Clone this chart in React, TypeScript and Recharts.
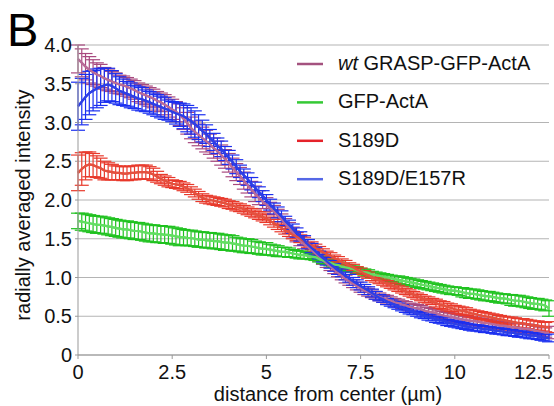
import React from 'react';
import { LineChart, Line, XAxis, YAxis, CartesianGrid, ErrorBar, Legend } from 'recharts';

const FONT = '"Liberation Sans", Arial, Helvetica, sans-serif';

// distance from center (µm), sampled every 0.1 µm
const distance: number[] = Array.from({ length: 126 }, (_, i) => i / 10);

const xTicks = [0, 2.5, 5, 7.5, 10, 12.5];
const yTicks = [0, 0.5, 1, 1.5, 2, 2.5, 3, 3.5, 4];

// wt GRASP-GFP-ActA
const wtMean = [
  3.82, 3.77, 3.72, 3.68, 3.65, 3.62, 3.60, 3.57, 3.55, 3.53,
  3.51, 3.49, 3.48, 3.46, 3.44, 3.42, 3.39, 3.37, 3.35, 3.33,
  3.31, 3.28, 3.26, 3.23, 3.20, 3.17, 3.14, 3.10, 3.05, 2.99,
  2.93, 2.88, 2.84, 2.80, 2.76, 2.72, 2.67, 2.63, 2.58, 2.53,
  2.48, 2.42, 2.36, 2.31, 2.25, 2.19, 2.14, 2.08, 2.03, 1.98,
  1.94, 1.89, 1.85, 1.80, 1.75, 1.69, 1.64, 1.58, 1.52, 1.47,
  1.43, 1.39, 1.35, 1.31, 1.27, 1.22, 1.18, 1.14, 1.10, 1.06,
  1.02, 0.98, 0.95, 0.92, 0.89, 0.86, 0.83, 0.81, 0.79, 0.77,
  0.75, 0.73, 0.72, 0.70, 0.68, 0.67, 0.65, 0.64, 0.62, 0.61,
  0.60, 0.59, 0.57, 0.56, 0.55, 0.54, 0.52, 0.51, 0.50, 0.49,
  0.48, 0.47, 0.46, 0.45, 0.44, 0.44, 0.43, 0.42, 0.41, 0.41,
  0.40, 0.39, 0.38, 0.38, 0.37, 0.36, 0.36, 0.35, 0.34, 0.34,
  0.33, 0.32, 0.31, 0.30, 0.29, 0.29,
];
const wtErr = [
  0.18, 0.18, 0.17, 0.17, 0.16, 0.15, 0.15, 0.14, 0.14, 0.13,
  0.13, 0.12, 0.12, 0.12, 0.12, 0.12, 0.12, 0.12, 0.12, 0.12,
  0.12, 0.12, 0.12, 0.13, 0.13, 0.13, 0.13, 0.14, 0.14, 0.14,
  0.14, 0.14, 0.14, 0.14, 0.14, 0.13, 0.13, 0.13, 0.13, 0.12,
  0.12, 0.12, 0.11, 0.11, 0.11, 0.10, 0.10, 0.10, 0.09, 0.09,
  0.09, 0.08, 0.08, 0.08, 0.07, 0.07, 0.07, 0.07, 0.06, 0.06,
  0.06, 0.06, 0.06, 0.06, 0.06, 0.05, 0.05, 0.05, 0.05, 0.05,
  0.05, 0.05, 0.05, 0.05, 0.05, 0.05, 0.05, 0.05, 0.05, 0.05,
  0.05, 0.05, 0.05, 0.05, 0.05, 0.05, 0.05, 0.05, 0.05, 0.05,
  0.05, 0.05, 0.05, 0.05, 0.05, 0.05, 0.05, 0.05, 0.05, 0.05,
  0.05, 0.05, 0.05, 0.05, 0.05, 0.05, 0.05, 0.05, 0.05, 0.05,
  0.05, 0.05, 0.05, 0.05, 0.05, 0.05, 0.06, 0.06, 0.06, 0.06,
  0.06, 0.06, 0.06, 0.06, 0.06, 0.08,
];

// GFP-ActA
const gfpMean = [
  1.73, 1.72, 1.71, 1.70, 1.69, 1.68, 1.68, 1.67, 1.66, 1.65,
  1.64, 1.63, 1.62, 1.62, 1.61, 1.60, 1.60, 1.59, 1.58, 1.57,
  1.57, 1.56, 1.56, 1.55, 1.55, 1.54, 1.53, 1.52, 1.52, 1.51,
  1.51, 1.50, 1.49, 1.49, 1.48, 1.48, 1.47, 1.47, 1.46, 1.45,
  1.45, 1.44, 1.43, 1.42, 1.41, 1.41, 1.40, 1.39, 1.38, 1.37,
  1.37, 1.36, 1.35, 1.34, 1.33, 1.33, 1.32, 1.31, 1.30, 1.29,
  1.29, 1.28, 1.27, 1.26, 1.24, 1.22, 1.21, 1.19, 1.17, 1.16,
  1.14, 1.13, 1.12, 1.11, 1.09, 1.08, 1.07, 1.06, 1.04, 1.03,
  1.02, 1.01, 1.00, 0.99, 0.98, 0.97, 0.96, 0.95, 0.94, 0.93,
  0.92, 0.91, 0.90, 0.89, 0.88, 0.87, 0.86, 0.85, 0.84, 0.83,
  0.83, 0.82, 0.81, 0.80, 0.79, 0.79, 0.78, 0.77, 0.76, 0.76,
  0.75, 0.74, 0.73, 0.73, 0.72, 0.71, 0.70, 0.70, 0.69, 0.68,
  0.67, 0.66, 0.66, 0.65, 0.64, 0.60,
];
const gfpErr = [
  0.10, 0.11, 0.11, 0.11, 0.11, 0.11, 0.11, 0.11, 0.11, 0.11,
  0.11, 0.11, 0.11, 0.11, 0.11, 0.11, 0.11, 0.11, 0.11, 0.11,
  0.11, 0.11, 0.11, 0.11, 0.11, 0.11, 0.11, 0.11, 0.10, 0.10,
  0.10, 0.10, 0.10, 0.10, 0.10, 0.10, 0.10, 0.10, 0.10, 0.10,
  0.10, 0.10, 0.09, 0.09, 0.09, 0.09, 0.09, 0.08, 0.08, 0.08,
  0.08, 0.07, 0.07, 0.07, 0.06, 0.06, 0.06, 0.05, 0.05, 0.05,
  0.05, 0.04, 0.04, 0.04, 0.04, 0.04, 0.04, 0.04, 0.04, 0.04,
  0.04, 0.04, 0.04, 0.04, 0.04, 0.04, 0.04, 0.04, 0.04, 0.04,
  0.04, 0.04, 0.04, 0.04, 0.04, 0.05, 0.05, 0.05, 0.05, 0.05,
  0.05, 0.05, 0.05, 0.05, 0.05, 0.05, 0.05, 0.05, 0.05, 0.05,
  0.05, 0.05, 0.06, 0.06, 0.06, 0.06, 0.06, 0.06, 0.06, 0.06,
  0.06, 0.06, 0.06, 0.06, 0.06, 0.07, 0.07, 0.07, 0.07, 0.07,
  0.07, 0.07, 0.07, 0.07, 0.07, 0.10,
];

// S189D
const s189dMean = [
  2.35, 2.40, 2.44, 2.46, 2.45, 2.43, 2.41, 2.38, 2.37, 2.36,
  2.35, 2.35, 2.34, 2.34, 2.35, 2.35, 2.36, 2.36, 2.36, 2.35,
  2.33, 2.30, 2.27, 2.25, 2.23, 2.21, 2.20, 2.19, 2.17, 2.15,
  2.12, 2.09, 2.06, 2.03, 2.01, 2.00, 1.99, 1.98, 1.97, 1.96,
  1.94, 1.93, 1.91, 1.90, 1.88, 1.86, 1.84, 1.82, 1.80, 1.78,
  1.76, 1.73, 1.70, 1.67, 1.64, 1.61, 1.58, 1.55, 1.53, 1.50,
  1.47, 1.44, 1.41, 1.38, 1.35, 1.33, 1.30, 1.28, 1.25, 1.23,
  1.20, 1.18, 1.15, 1.13, 1.10, 1.08, 1.05, 1.03, 1.00, 0.98,
  0.96, 0.94, 0.92, 0.90, 0.88, 0.86, 0.84, 0.82, 0.80, 0.78,
  0.76, 0.74, 0.72, 0.71, 0.69, 0.67, 0.65, 0.64, 0.62, 0.61,
  0.59, 0.58, 0.57, 0.56, 0.54, 0.53, 0.52, 0.51, 0.50, 0.49,
  0.48, 0.47, 0.46, 0.45, 0.44, 0.43, 0.42, 0.41, 0.41, 0.40,
  0.39, 0.38, 0.38, 0.37, 0.36, 0.36,
];
const s189dErr = [
  0.23, 0.21, 0.18, 0.16, 0.15, 0.14, 0.13, 0.12, 0.11, 0.10,
  0.09, 0.09, 0.09, 0.09, 0.09, 0.09, 0.09, 0.09, 0.09, 0.08,
  0.08, 0.07, 0.06, 0.06, 0.06, 0.05, 0.05, 0.05, 0.05, 0.05,
  0.05, 0.05, 0.05, 0.05, 0.05, 0.05, 0.05, 0.05, 0.05, 0.05,
  0.05, 0.05, 0.05, 0.05, 0.05, 0.05, 0.05, 0.05, 0.05, 0.05,
  0.05, 0.05, 0.05, 0.05, 0.05, 0.05, 0.05, 0.05, 0.05, 0.05,
  0.05, 0.05, 0.05, 0.05, 0.05, 0.04, 0.04, 0.04, 0.04, 0.04,
  0.04, 0.04, 0.04, 0.04, 0.04, 0.04, 0.04, 0.04, 0.04, 0.04,
  0.04, 0.04, 0.04, 0.04, 0.04, 0.04, 0.04, 0.04, 0.04, 0.04,
  0.04, 0.04, 0.04, 0.04, 0.04, 0.05, 0.05, 0.05, 0.05, 0.05,
  0.05, 0.05, 0.05, 0.05, 0.05, 0.05, 0.05, 0.05, 0.05, 0.05,
  0.05, 0.05, 0.05, 0.05, 0.05, 0.06, 0.06, 0.06, 0.06, 0.06,
  0.06, 0.06, 0.06, 0.06, 0.06, 0.07,
];

// S189D/E157R
const dblMean = [
  3.21, 3.27, 3.33, 3.38, 3.41, 3.44, 3.46, 3.48, 3.49, 3.47,
  3.44, 3.41, 3.39, 3.37, 3.35, 3.33, 3.31, 3.30, 3.28, 3.26,
  3.24, 3.22, 3.20, 3.18, 3.16, 3.14, 3.12, 3.10, 3.08, 3.05,
  3.02, 2.98, 2.94, 2.89, 2.85, 2.80, 2.75, 2.70, 2.66, 2.60,
  2.55, 2.49, 2.43, 2.37, 2.32, 2.27, 2.21, 2.16, 2.10, 2.05,
  2.00, 1.94, 1.89, 1.84, 1.79, 1.73, 1.68, 1.63, 1.58, 1.53,
  1.48, 1.43, 1.38, 1.34, 1.29, 1.25, 1.21, 1.17, 1.13, 1.09,
  1.06, 1.02, 0.99, 0.95, 0.92, 0.89, 0.86, 0.83, 0.80, 0.77,
  0.74, 0.72, 0.69, 0.67, 0.65, 0.63, 0.61, 0.59, 0.57, 0.56,
  0.54, 0.52, 0.51, 0.49, 0.48, 0.46, 0.45, 0.44, 0.42, 0.41,
  0.40, 0.39, 0.38, 0.37, 0.36, 0.35, 0.35, 0.34, 0.33, 0.33,
  0.32, 0.31, 0.31, 0.30, 0.29, 0.29, 0.28, 0.27, 0.27, 0.26,
  0.25, 0.25, 0.24, 0.23, 0.22, 0.22,
];
const dblErr = [
  0.31, 0.30, 0.29, 0.28, 0.26, 0.25, 0.24, 0.22, 0.21, 0.20,
  0.19, 0.18, 0.17, 0.16, 0.16, 0.15, 0.15, 0.15, 0.14, 0.14,
  0.14, 0.14, 0.14, 0.14, 0.13, 0.13, 0.14, 0.15, 0.16, 0.17,
  0.17, 0.17, 0.16, 0.14, 0.12, 0.11, 0.11, 0.10, 0.10, 0.09,
  0.09, 0.09, 0.09, 0.08, 0.08, 0.08, 0.08, 0.07, 0.07, 0.07,
  0.07, 0.07, 0.07, 0.07, 0.07, 0.06, 0.06, 0.06, 0.06, 0.06,
  0.06, 0.06, 0.06, 0.05, 0.05, 0.05, 0.05, 0.05, 0.05, 0.05,
  0.05, 0.05, 0.05, 0.05, 0.05, 0.05, 0.05, 0.05, 0.05, 0.05,
  0.04, 0.04, 0.04, 0.04, 0.04, 0.04, 0.04, 0.04, 0.04, 0.04,
  0.04, 0.04, 0.04, 0.04, 0.04, 0.04, 0.04, 0.04, 0.04, 0.04,
  0.04, 0.04, 0.04, 0.04, 0.04, 0.04, 0.04, 0.04, 0.04, 0.04,
  0.04, 0.04, 0.04, 0.04, 0.04, 0.04, 0.04, 0.04, 0.04, 0.04,
  0.04, 0.04, 0.04, 0.04, 0.04, 0.05,
];

const data = distance.map((d, i) => ({
  d,
  wt: wtMean[i], wtErr: wtErr[i],
  gfp: gfpMean[i], gfpErr: gfpErr[i],
  s189d: s189dMean[i], s189dErr: s189dErr[i],
  dbl: dblMean[i], dblErr: dblErr[i],
}));

const series = [
  { key: 'wt', err: 'wtErr', italic: 'wt', name: 'GRASP-GFP-ActA', bar: '#a8497f', line: '#b96b98', legend: '#a4527f' },
  { key: 'gfp', err: 'gfpErr', italic: '', name: 'GFP-ActA', bar: '#1fc21f', line: '#62de62', legend: '#35c935' },
  { key: 's189d', err: 's189dErr', italic: '', name: 'S189D', bar: '#e8392b', line: '#e4503e', legend: '#e5232a' },
  { key: 'dbl', err: 'dblErr', italic: '', name: 'S189D/E157R', bar: '#1a2ff0', line: '#2d3fe6', legend: '#5568e6' },
];

const LegendBox = () => (
  <svg width={262} height={160} style={{ display: 'block', overflow: 'visible' }}>
    {series.map((s, i) => {
      const ly = 19 + i * 38.4;
      return (
        <g key={s.key}>
          <line x1={7} x2={33} y1={ly} y2={ly} stroke={s.legend} strokeWidth={2.5} />
          <text x={48} y={ly + 6} fontSize={20} fontFamily={FONT} fill="#111">
            {s.italic ? <tspan fontStyle="italic">{s.italic} </tspan> : null}
            {s.name}
          </text>
        </g>
      );
    })}
  </svg>
);

const XTick = (props: any) => {
  const { x, y, payload } = props;
  const last = payload.value === 12.5;
  return (
    <text
      x={last ? 553 : x}
      y={y}
      dy="0.71em"
      textAnchor={last ? 'end' : 'middle'}
      fontSize={20}
      fontFamily={FONT}
      fill="#111"
    >
      {String(payload.value)}
    </text>
  );
};

export default function App() {
  return (
    <div style={{ position: 'absolute', left: 0, top: 0, width: 554, height: 406, background: '#fff', fontFamily: FONT }}>
      <LineChart width={554} height={406} data={data} margin={{ top: 45, right: 5, left: 0, bottom: 0 }}>
        <CartesianGrid vertical={false} stroke="#b4b4b4" strokeWidth={1.2} />
        <XAxis
          dataKey="d"
          type="number"
          domain={[0, 12.5]}
          ticks={xTicks}
          height={51}
          tickSize={4}
          tickMargin={6}
          interval={0}
          stroke="#999"
          tick={<XTick />}
        />
        <YAxis
          type="number"
          domain={[0, 4]}
          ticks={yTicks}
          width={78}
          tickSize={3}
          tickMargin={3}
          interval={0}
          stroke="#999"
          tick={{ fill: '#111', fontSize: 20, fontFamily: FONT }}
          tickFormatter={(v: number) => (v === 0 ? '0' : v.toFixed(1))}
        />
        <Legend
          layout="vertical"
          align="center"
          verticalAlign="middle"
          content={() => <LegendBox />}
          wrapperStyle={{ left: 290, top: 45, width: 262, height: 160 }}
        />
        {series.map((s) => (
          <Line
            key={s.key}
            dataKey={s.key}
            name={s.name}
            type="linear"
            stroke={s.line}
            strokeWidth={2.2}
            dot={false}
            isAnimationActive={false}
          >
            <ErrorBar dataKey={s.err} direction="y" width={7} stroke={s.bar} strokeWidth={1.2} isAnimationActive={false} />
          </Line>
        ))}
        {series.map((s) => (
          <Line
            key={s.key + '-mean'}
            dataKey={s.key}
            type="linear"
            stroke={s.line}
            strokeWidth={2.2}
            dot={false}
            legendType="none"
            isAnimationActive={false}
          />
        ))}
      </LineChart>
      <svg width={554} height={406} style={{ position: 'absolute', left: 0, top: 0, pointerEvents: 'none' }}>
        <text x={7} y={46} fontSize={47} fontFamily={FONT} fill="#000">B</text>
        <text
          x={30}
          y={205}
          transform="rotate(-90 30 205)"
          textAnchor="middle"
          fontSize={20}
          fontFamily={FONT}
          fill="#111"
        >
          radially averaged intensity
        </text>
        <text x={328} y={401} textAnchor="middle" fontSize={20} fontFamily={FONT} fill="#111">
          distance from center (µm)
        </text>
      </svg>
    </div>
  );
}
